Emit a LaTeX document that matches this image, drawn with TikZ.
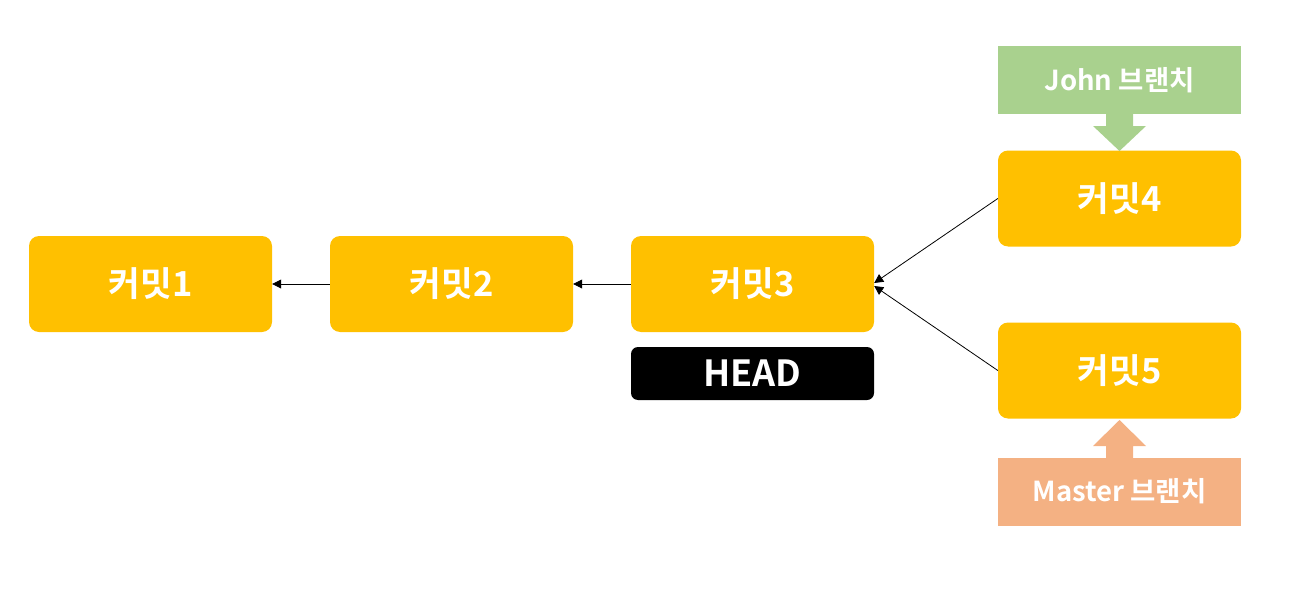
\documentclass[tikz,border=0pt]{standalone}
\usepackage{fontspec}
\setmainfont{Noto Sans CJK KR}[BoldFont={* Bold}]
\usetikzlibrary{arrows.meta}
\definecolor{commit}{HTML}{FFC000}
\definecolor{john}{HTML}{A9D18E}
\definecolor{master}{HTML}{F4B183}
\begin{document}
\begin{tikzpicture}[x=1pt,y=-1pt,
  commitbox/.style={fill=commit, rounded corners=10pt, minimum width=243pt, minimum height=96pt, inner sep=0pt, text=white, font=\bfseries\fontsize{34.5}{36}\selectfont},
  headbox/.style={fill=black, rounded corners=7pt, minimum width=243pt, minimum height=53pt, inner sep=0pt, text=white, font=\bfseries\fontsize{36}{38}\selectfont},
  branchbox/.style={minimum width=243pt, minimum height=68pt, inner sep=0pt, text=white, font=\bfseries\fontsize{27.5}{29}\selectfont},
  link/.style={draw=black, line width=0.8pt, -{Triangle[length=9pt,width=9pt]}}]
\useasboundingbox (0,0) rectangle (1293,594);
\node[commitbox] (c1) at (150.5,284) {커밋1};
\node[commitbox] (c2) at (451.5,284) {커밋2};
\node[commitbox] (c3) at (752.5,284) {커밋3};
\node[headbox] (head) at (752.5,373.5) {HEAD};
\node[commitbox] (c4) at (1119.5,198.5) {커밋4};
\node[commitbox] (c5) at (1119.5,370.5) {커밋5};
\node[branchbox, fill=john] (john) at (1119.5,80) {John 브랜치};
\node[branchbox, fill=master] (mast) at (1119.5,491.5) {Master 브랜치};
% block arrows
\fill[john] (1106,113) -- (1133,113) -- (1133,126) -- (1146,126) -- (1119.5,151) -- (1093,126) -- (1106,126) -- cycle;
\fill[master] (1106,458) -- (1133,458) -- (1133,446) -- (1146,446) -- (1119.5,420) -- (1093,446) -- (1106,446) -- cycle;
\draw[link] (c2.west) -- (c1.east);
\draw[link] (c3.west) -- (c2.east);
\draw[link] (c4.west) -- ([yshift=1pt]c3.east);
\draw[link] (c5.west) -- ([yshift=-2pt]c3.east);
\end{tikzpicture}
\end{document}
